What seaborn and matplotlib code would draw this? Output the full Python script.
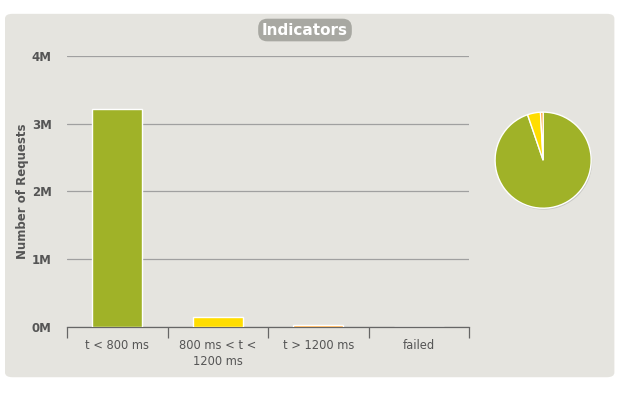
import pandas as pd
import matplotlib.pyplot as plt
import seaborn as sns
from matplotlib.patches import FancyBboxPatch, Circle
from matplotlib.ticker import FuncFormatter

categories = ['t < 800 ms', '800 ms < t < 1200 ms', 't > 1200 ms', 'failed']
tick_labels = ['t < 800 ms', '800 ms < t <\n1200 ms', 't > 1200 ms', 'failed']
requests = [3220000, 148000, 30000, 0]
colors = ['#A0B228', '#FFDD00', '#FF9916', '#FF0000']

df = pd.DataFrame({'range': categories, 'count': requests})

sns.set_style('white')
plt.rcParams['font.family'] = ['DejaVu Sans']

fig = plt.figure(figsize=(6.25, 3.95), dpi=100)
fig.patch.set_facecolor('white')

# rounded panel behind everything
panel = FancyBboxPatch((0.008, 0.045), 0.975, 0.92, boxstyle='round,pad=0,rounding_size=0.012',
                       transform=fig.transFigure, facecolor='#E5E4DF', edgecolor='none', zorder=-10)
fig.patches.append(panel)

ax = fig.add_axes([0.1072, 0.1722, 0.6432, 0.686])
ax.set_facecolor('none')
sns.barplot(data=df, x='range', y='count', hue='range', palette=colors, legend=False, saturation=1,
            width=0.5, edgecolor='white', linewidth=1, ax=ax, zorder=3)

ax.set_ylim(0, 4000000)
ax.set_yticks([0, 1000000, 2000000, 3000000, 4000000])
ax.yaxis.set_major_formatter(FuncFormatter(lambda v, p: f'{int(v / 1e6)}M'))
ax.grid(axis='y', color='#A0A0A0', linewidth=0.9, zorder=0)
ax.set_axisbelow(True)
ax.set_xlim(-0.5, 3.5)
ax.set_xticks([-0.5, 0.5, 1.5, 2.5, 3.5], minor=False)
ax.set_xticklabels([])
ax.set_xticks([0, 1, 2, 3], minor=True)
ax.set_xticklabels(tick_labels, minor=True, linespacing=1.25)
ax.tick_params(axis='x', which='major', length=8, width=0.9, color='#666666', direction='out', bottom=True)
ax.tick_params(axis='x', which='minor', length=0, labelsize=8.3, labelcolor='#555555', pad=9)
ax.tick_params(axis='y', length=0, labelsize=8.5, labelcolor='#555555', pad=11)
for lbl in ax.get_yticklabels():
    lbl.set_fontweight('bold')
for s in ['top', 'right', 'left']:
    ax.spines[s].set_visible(False)
ax.spines['bottom'].set_color('#666666')
ax.spines['bottom'].set_linewidth(0.9)
ax.set_xlabel('')
ax.set_ylabel('Number of Requests', fontsize=8.5, fontweight='bold', color='#555555', labelpad=2)

# title badge
fig.text(0.488, 0.924, 'Indicators', ha='center', va='center', fontsize=11, fontweight='bold',
         color='white', bbox=dict(boxstyle='round,pad=0.25,rounding_size=0.6', facecolor='#A8A8A2',
                                  edgecolor='none'))

# pie
pax = fig.add_axes([0.789, 0.468, 0.16, 0.253])
pie_vals = requests[:3]
pax.add_patch(Circle((0.02, -0.03), 1.0, facecolor='#C8C8C4', edgecolor='none', zorder=0))
pax.pie(pie_vals, colors=colors[:3], startangle=90, counterclock=False,
        wedgeprops=dict(edgecolor='white', linewidth=1, zorder=2))
pax.set_xlim(-1.04, 1.04)
pax.set_ylim(-1.04, 1.04)
pax.set_aspect('equal')
pax.axis('off')

fig.savefig('out.png', dpi=100, facecolor='white')
